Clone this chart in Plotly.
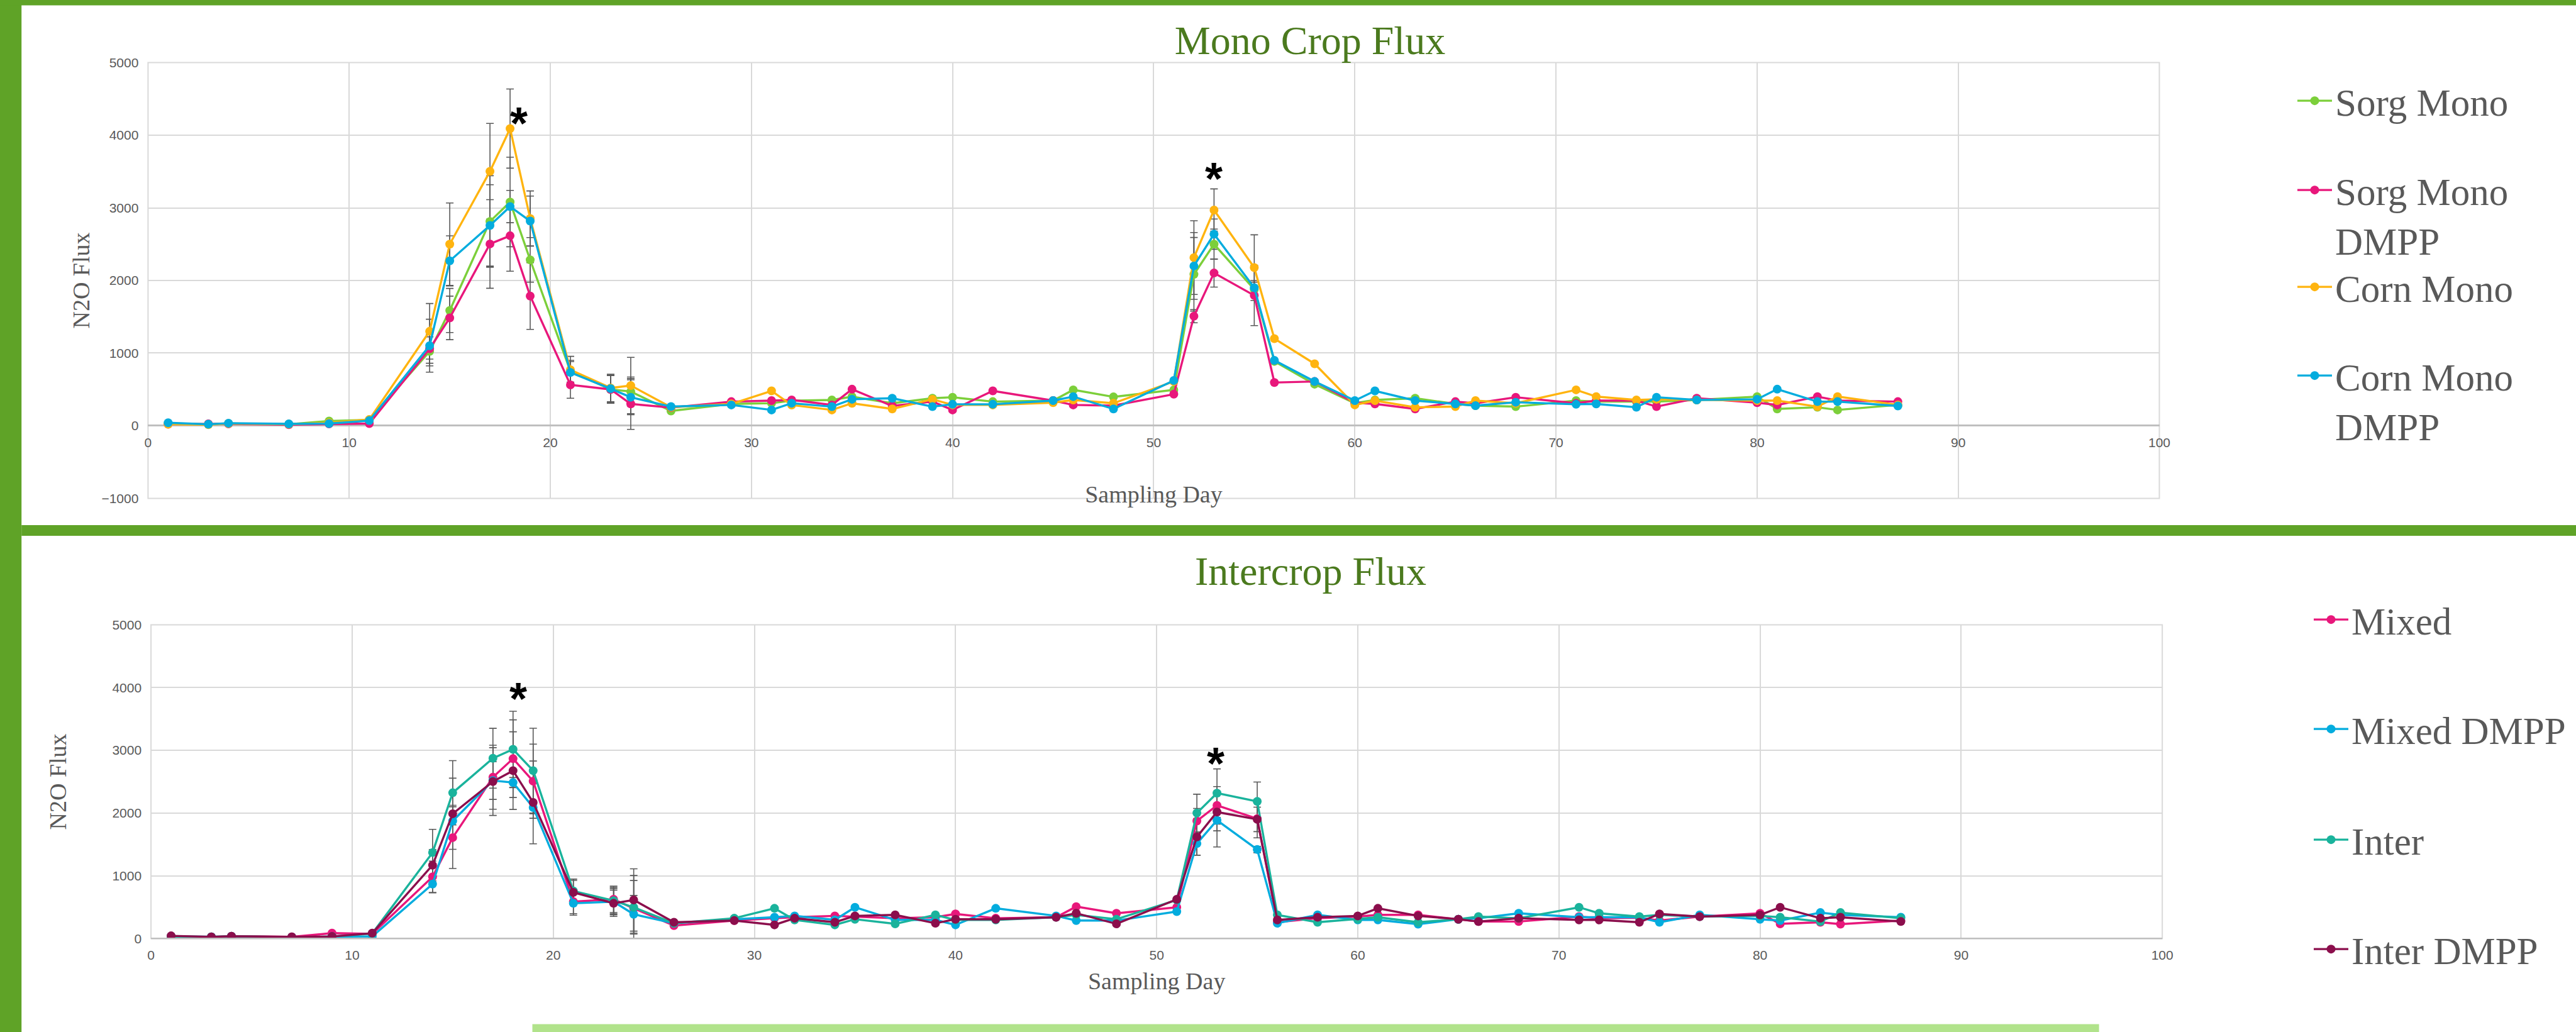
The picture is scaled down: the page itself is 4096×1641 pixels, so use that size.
import plotly.graph_objects as go

W, H = 4096, 1641

# ---------------- data ----------------
days = [1, 3, 4, 7, 9, 11, 14, 15, 17, 18, 19, 21, 23, 24, 26, 29, 31, 32, 34, 35,
        37, 39, 40, 42, 45, 46, 48, 51, 52, 53, 55, 56, 58, 60, 61, 63, 65, 66, 68,
        71, 72, 74, 75, 77, 80, 81, 83, 84, 87]

# Mono crop panel
sorg_mono = [30, 20, 30, 20, 65, 80, 1024, 1587, 2813, 3081, 2284, 750, 500, 470, 203, 300, 310, 345, 355, 400,
             309, 378, 392, 332, 346, 494, 397, 494, 2085, 2500, 1877, 886, 572, 309, 355, 378, 300, 277, 263,
             346, 332, 332, 332, 355, 401, 231, 254, 217, 286]
sorg_mono_dmpp = [20, 25, 25, 15, 25, 30, 1060, 1485, 2503, 2616, 1786, 563, 500, 300, 250, 332, 346, 355, 286, 503,
                  272, 332, 217, 480, 346, 286, 277, 434, 1508, 2103, 1794, 595, 609, 318, 300, 231, 332, 309, 392,
                  309, 346, 346, 263, 378, 318, 286, 401, 346, 332]
corn_mono = [20, 15, 30, 20, 40, 85, 1300, 2500, 3503, 4092, 2854, 770, 520, 553, 255, 300, 480, 285, 217, 309,
             231, 364, 286, 286, 318, 355, 309, 609, 2315, 2970, 2177, 1199, 853, 286, 346, 254, 263, 346, 309,
             494, 401, 355, 364, 355, 346, 346, 263, 401, 286]
corn_mono_dmpp = [40, 20, 35, 25, 30, 70, 1102, 2270, 2758, 3018, 2818, 733, 510, 392, 263, 286, 217, 310, 263, 364,
                  378, 263, 295, 295, 346, 401, 231, 623, 2200, 2638, 1900, 900, 609, 346, 480, 346, 300, 277, 323,
                  295, 300, 254, 392, 355, 364, 503, 332, 332, 272]

# Intercrop panel
mixed = [25, 20, 35, 25, 85, 74, 984, 1608, 2571, 2867, 2508, 587, 624, 481, 206, 286, 323, 339, 360, 349,
         323, 339, 392, 323, 339, 508, 402, 497, 1873, 2122, 1910, 259, 323, 349, 376, 376, 307, 270, 270,
         349, 323, 330, 286, 349, 402, 233, 259, 228, 286]
mixed_dmpp = [30, 25, 30, 20, 30, 32, 868, 1873, 2518, 2486, 2089, 561, 587, 386, 243, 307, 339, 360, 296, 497,
              296, 296, 217, 481, 360, 286, 286, 429, 1513, 1884, 1418, 243, 376, 296, 296, 228, 307, 323, 402,
              339, 339, 339, 259, 376, 307, 286, 413, 376, 339]
inter = [30, 25, 35, 20, 30, 80, 1370, 2323, 2873, 3016, 2676, 757, 603, 497, 243, 323, 481, 296, 217, 307,
         233, 376, 296, 296, 339, 376, 307, 614, 2000, 2317, 2185, 376, 259, 307, 339, 259, 307, 349, 323,
         497, 402, 349, 376, 349, 360, 339, 270, 413, 323]
inter_dmpp = [42, 25, 35, 25, 32, 85, 1169, 1989, 2502, 2676, 2169, 735, 561, 614, 259, 286, 217, 323, 259, 360,
              376, 243, 307, 307, 339, 402, 233, 624, 1619, 2016, 1899, 296, 339, 360, 481, 360, 307, 270, 323,
              296, 296, 259, 392, 349, 376, 497, 323, 339, 270]

# Error bars (standard error) on the peak sampling days
err_days = [14, 15, 17, 18, 19, 21, 23, 24, 52, 53, 55]
err_sorg_mono = [200, 304, 630, 617, 307, 150, 190, 200, 507, 208, 100]
err_sorg_mono_dmpp = [200, 300, 610, 488, 460, 185, 190, 350, 90, 194, 415]
err_corn_mono = [383, 567, 660, 545, 379, 185, 190, 388, 508, 291, 452]
err_corn_mono_dmpp = [364, 345, 560, 222, 345, 150, 190, 240, 460, 208, 100]
err_mixed = [250, 492, 510, 619, 591, 190, 210, 523, 200, 300, 306]
err_mixed_dmpp = [140, 250, 300, 80, 100, 190, 210, 300, 185, 424, 50]
err_inter = [370, 513, 477, 607, 676, 190, 210, 427, 300, 387, 310]
err_inter_dmpp = [250, 567, 540, 619, 660, 190, 210, 497, 290, 300, 195]

# significance markers (day, flux)
star_top = [(18.45, 4250), (53.0, 3490)]
star_bottom = [(18.25, 3940), (52.95, 2910)]

x_ticks = list(range(0, 101, 10))
y_ticks_top = list(range(-1000, 5001, 1000))
y_ticks_bottom = list(range(0, 5001, 1000))

# ---------------- styling ----------------
GREEN = "#7ccf3a"
PINK = "#e8177b"
ORANGE = "#ffb40f"
BLUE = "#03acde"
TEAL = "#1ab39c"
MAROON = "#8b0e4c"
GRID = "#d9d9d9"
TXT = "#595959"
SERIF = "Liberation Serif"
SANS = "Liberation Sans"


def px(x):
    return x / W


def py(y):
    return 1 - y / H


top_series = [
    ("Sorg Mono", sorg_mono, err_sorg_mono, GREEN),
    ("Sorg Mono<br>DMPP", sorg_mono_dmpp, err_sorg_mono_dmpp, PINK),
    ("Corn Mono", corn_mono, err_corn_mono, ORANGE),
    ("Corn Mono<br>DMPP", corn_mono_dmpp, err_corn_mono_dmpp, BLUE),
]
bottom_series = [
    ("Mixed", mixed, err_mixed, PINK),
    ("Mixed DMPP", mixed_dmpp, err_mixed_dmpp, BLUE),
    ("Inter", inter, err_inter, TEAL),
    ("Inter DMPP", inter_dmpp, err_inter_dmpp, MAROON),
]

fig = go.Figure()

# error bars drawn first (beneath the lines)
for series, xa, ya in ((top_series, "x", "y"), (bottom_series, "x2", "y2")):
    for name, vals, errs, col in series:
        ev = [vals[days.index(d)] for d in err_days]
        fig.add_trace(go.Scatter(
            x=err_days, y=ev, mode="markers", xaxis=xa, yaxis=ya,
            marker=dict(size=1, color="rgba(0,0,0,0)"),
            error_y=dict(type="data", array=errs, visible=True, color=TXT, thickness=1.6, width=6),
            showlegend=False, hoverinfo="skip"))

legend_names = ["legend", "legend2", "legend3", "legend4", "legend5", "legend6", "legend7", "legend8"]
k = 0
for series, xa, ya in ((top_series, "x", "y"), (bottom_series, "x2", "y2")):
    for name, vals, errs, col in series:
        fig.add_trace(go.Scatter(
            x=days, y=vals, mode="lines+markers", name=name, xaxis=xa, yaxis=ya,
            line=dict(color=col, width=3.4),
            marker=dict(color=col, size=14, line=dict(width=0)),
            legend=legend_names[k]))
        k += 1

# legends, one per entry, placed like the original
top_leg_x = px(3648)
bot_leg_x = px(3674)
leg_centers = [159, 301, 455, 596, 984, 1158, 1334, 1508]
leg_font = dict(family=SERIF, size=61, color=TXT)
leg_layout = {}
for i, ln in enumerate(legend_names):
    leg_layout[ln] = dict(
        x=top_leg_x if i < 4 else bot_leg_x,
        y=py(leg_centers[i] - 45), xanchor="left", yanchor="top",
        font=leg_font, bgcolor="rgba(0,0,0,0)", valign="top", itemwidth=55)

axis_common = dict(showgrid=True, gridcolor=GRID, gridwidth=2, showline=False, ticks="",
                   tickfont=dict(family=SANS, size=21, color=TXT), zeroline=False, automargin=False)

top_dom_x = [px(235.4), px(3433.5)]
top_dom_y = [py(792.4), py(99.6)]
bot_dom_x = [px(240.1), px(3438.2)]
bot_dom_y = [py(1492.3), py(993.6)]

fig.update_layout(
    width=W, height=H, margin=dict(l=0, r=0, t=0, b=0, pad=0, autoexpand=False), autosize=False,
    paper_bgcolor="white", plot_bgcolor="white", hovermode=False,
    title=dict(text="Mono Crop Flux", x=px(2083), y=py(64), xanchor="center", yanchor="middle",
               xref="paper", yref="paper", automargin=False,
               font=dict(family=SERIF, size=64, color="#4b7a1e")),
    xaxis=dict(axis_common, domain=top_dom_x, range=[0, 100], tickvals=x_ticks,
               anchor="free", position=py(677.2), ticklabelstandoff=12,
               title=dict(text="Sampling Day", font=dict(family=SERIF, size=38, color=TXT), standoff=58)),
    yaxis=dict(axis_common, domain=top_dom_y, range=[-1000, 5000], tickvals=y_ticks_top,
               anchor="x", ticklabelstandoff=14, zeroline=True, zerolinecolor="#bfbfbf", zerolinewidth=2.5,
               title=dict(text="N2O Flux", font=dict(family=SERIF, size=38, color=TXT), standoff=7)),
    xaxis2=dict(axis_common, domain=bot_dom_x, range=[0, 100], tickvals=x_ticks,
                anchor="y2", ticklabelstandoff=12,
                title=dict(text="Sampling Day", font=dict(family=SERIF, size=38, color=TXT), standoff=17)),
    yaxis2=dict(axis_common, domain=bot_dom_y, range=[0, 5000], tickvals=y_ticks_bottom,
                anchor="x2", ticklabelstandoff=14,
                title=dict(text="N2O Flux", font=dict(family=SERIF, size=38, color=TXT), standoff=61)),
    **leg_layout,
)

shapes = [
    # green frame bars
    dict(type="rect", xref="paper", yref="paper", x0=0, x1=px(34.2), y0=0, y1=1,
         fillcolor="#5fa327", line=dict(width=0)),
    dict(type="rect", xref="paper", yref="paper", x0=0, x1=1, y0=py(8.5), y1=1,
         fillcolor="#5fa327", line=dict(width=0)),
    dict(type="rect", xref="paper", yref="paper", x0=px(34.2), x1=1, y0=py(852), y1=py(835),
         fillcolor="#5fa327", line=dict(width=0)),
    dict(type="rect", xref="paper", yref="paper", x0=px(846.5), x1=px(3337.6), y0=0, y1=py(1628.5),
         fillcolor="#b1e38b", line=dict(width=0)),
    # plot borders
    dict(type="rect", xref="x domain", yref="y domain", x0=0, x1=1, y0=0, y1=1,
         line=dict(color=GRID, width=2), layer="below"),
    dict(type="rect", xref="x2 domain", yref="y2 domain", x0=0, x1=1, y0=0, y1=1,
         line=dict(color=GRID, width=2), layer="below"),
    dict(type="line", xref="x2 domain", yref="y2 domain", x0=0, x1=1, y0=0, y1=0,
         line=dict(color="#bfbfbf", width=2.5)),
]
fig.update_layout(shapes=shapes)

annotations = [
    dict(text="Intercrop Flux", x=px(2084), y=py(908), xref="paper", yref="paper",
         xanchor="center", yanchor="middle", showarrow=False,
         font=dict(family=SERIF, size=64, color="#4b7a1e")),
]
for (sx, sy) in star_top:
    annotations.append(dict(text="<b>*</b>", x=sx, y=sy, xref="x", yref="y", showarrow=False,
                            xanchor="center", yanchor="middle", yshift=-10,
                            font=dict(family=SANS, size=72, color="black")))
for (sx, sy) in star_bottom:
    annotations.append(dict(text="<b>*</b>", x=sx, y=sy, xref="x2", yref="y2", showarrow=False,
                            xanchor="center", yanchor="middle", yshift=-12,
                            font=dict(family=SANS, size=72, color="black")))
fig.update_layout(annotations=annotations)

fig.write_html("out.html")
